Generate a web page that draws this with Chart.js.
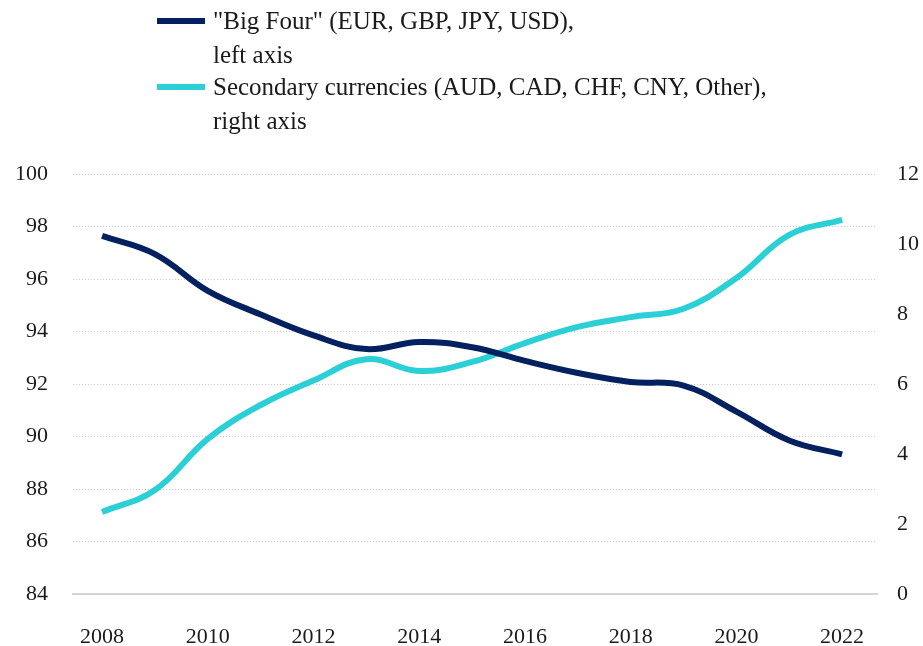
<!DOCTYPE html>
<html>
<head>
<meta charset="utf-8">
<script src="https://cdn.jsdelivr.net/npm/chart.js@4.4.1/dist/chart.umd.min.js"></script>
<style>
  html, body { margin: 0; padding: 0; background: #fff; }
  #wrap { position: relative; width: 923px; height: 646px; }
  #legend { position: absolute; left: 157px; top: 4px; font-family: "Liberation Serif", serif; font-size: 25px; color: #1a1a1a; line-height: 34px; }
  .item { display: flex; align-items: flex-start; margin-bottom: -2px; }
  .swatch { width: 48px; height: 6px; margin-top: 14px; margin-right: 8px; flex: none; }
</style>
</head>
<body>
<div id="wrap">
  <canvas id="myChart" width="923" height="646"></canvas>
  <div id="legend"></div>
</div>
<script>
const years = [2008, 2009, 2010, 2011, 2012, 2013, 2014, 2015, 2016, 2017, 2018, 2019, 2020, 2021, 2022];
const bigFour = [97.64, 96.95, 95.55, 94.65, 93.85, 93.33, 93.6, 93.4, 92.88, 92.42, 92.08, 91.94, 90.95, 89.85, 89.32];
const secondary = [2.34, 2.97, 4.43, 5.4, 6.1, 6.71, 6.37, 6.63, 7.17, 7.63, 7.91, 8.15, 9.03, 10.26, 10.69];
const seriesLabels = [
  ['"Big Four" (EUR, GBP, JPY, USD),', 'left axis'],
  ['Secondary currencies (AUD, CAD, CHF, CNY, Other),', 'right axis'],
];
const seriesColors = ['#03215f', '#2bcfd6'];
const xTicks = [2008, 2010, 2012, 2014, 2016, 2018, 2020, 2022];

// HTML legend, two lines per item
const legend = document.getElementById('legend');
seriesLabels.forEach((lines, i) => {
  const item = document.createElement('div');
  item.className = 'item';
  const sw = document.createElement('div');
  sw.className = 'swatch';
  sw.style.background = seriesColors[i];
  const txt = document.createElement('div');
  txt.innerHTML = lines.join('<br>');
  item.appendChild(sw);
  item.appendChild(txt);
  legend.appendChild(item);
});

const tickFont = { family: 'Liberation Serif', size: 22 };
const ctx = document.getElementById('myChart').getContext('2d');
new Chart(ctx, {
  type: 'line',
  data: {
    datasets: [
      {
        label: seriesLabels[0].join(' '),
        data: years.map((y, i) => ({ x: y, y: bigFour[i] })),
        borderColor: seriesColors[0],
        borderWidth: 6,
        pointRadius: 0,
        tension: 0.4,
        fill: false,
        yAxisID: 'y',
      },
      {
        label: seriesLabels[1].join(' '),
        data: years.map((y, i) => ({ x: y, y: secondary[i] })),
        borderColor: seriesColors[1],
        borderWidth: 6,
        pointRadius: 0,
        tension: 0.4,
        fill: false,
        yAxisID: 'y1',
      },
    ],
  },
  options: {
    responsive: false,
    animation: false,
    layout: { padding: { top: 174, left: 0, right: 0, bottom: 0 } },
    plugins: { legend: { display: false }, tooltip: { enabled: false } },
    scales: {
      x: {
        type: 'linear',
        min: 2007.45,
        max: 2022.66,
        afterBuildTicks: (scale) => { scale.ticks = xTicks.map((v) => ({ value: v })); },
        afterFit: (scale) => { scale.height = 52; },
        grid: { display: false },
        border: { display: true, color: '#d4d4d4', width: 2 },
        ticks: { font: tickFont, color: '#1a1a1a', padding: 22, maxRotation: 0, callback: (v) => String(v) },
      },
      y: {
        position: 'left',
        min: 84,
        max: 100,
        afterFit: (scale) => { scale.width = 73; },
        ticks: { stepSize: 2, font: tickFont, color: '#1a1a1a', padding: 25 },
        grid: { color: '#cccccc', lineWidth: 1, drawTicks: false },
        border: { display: false, dash: [1, 2] },
      },
      y1: {
        position: 'right',
        min: 0,
        max: 12,
        afterFit: (scale) => { scale.width = 46; },
        ticks: { stepSize: 2, font: tickFont, color: '#1a1a1a', padding: 20 },
        grid: { display: false, drawTicks: false },
        border: { display: false },
      },
    },
  },
});
</script>
</body>
</html>
